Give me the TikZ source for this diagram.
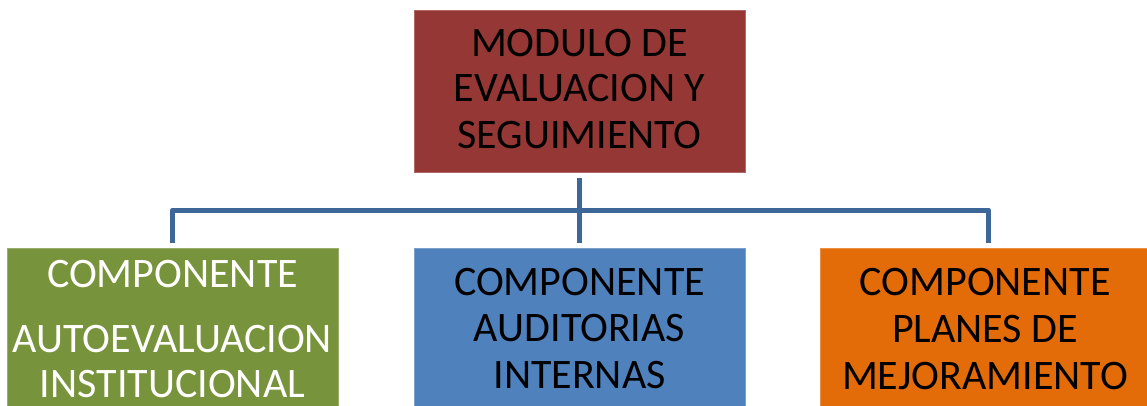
\documentclass[tikz,border=0pt]{standalone}
\usepackage{fontspec}
\setmainfont{Carlito}
\definecolor{boxred}{HTML}{953735}
\definecolor{boxgreen}{HTML}{77933C}
\definecolor{boxblue}{HTML}{4F81BD}
\definecolor{boxorange}{HTML}{E36C09}
\definecolor{linkblue}{HTML}{3D6699}
\tikzset{
  box/.style={rectangle, anchor=north west, inner sep=0pt, outer sep=0pt,
    minimum width=331pt, line width=0.8pt},
  txt/.style={anchor=base, inner sep=0pt, font=\fontsize{42}{46}\selectfont},
  link/.style={draw=linkblue, line width=5pt, line join=round, shorten <=6pt, shorten >=5pt}
}
\begin{document}
\begin{tikzpicture}[x=1pt,y=1pt]
\useasboundingbox (0,0) rectangle (1147,-406);
\begin{scope}
\clip (0,0) rectangle (1147,-406);
\node[box, fill=boxred, draw=boxred!75!white, minimum height=162pt] (top) at (414,-10) {};
\node[box, fill=boxgreen, draw=boxgreen!75!white, minimum height=180pt] (green) at (7,-248) {};
\node[box, fill=boxblue, draw=boxblue!75!white, minimum height=180pt] (blue) at (414,-248) {};
\node[box, fill=boxorange, draw=boxorange!75!white, minimum height=180pt] (orange) at (820,-248) {};

\draw[link] (top.south) -- (blue.north);
\draw[link] (top.south) -- ++(0,-38) -| (green.north);
\draw[link] (top.south) -- ++(0,-38) -| ([xshift=3pt]orange.north);

\node[txt] (t1) at (579.5,-57) {MODULO DE};
\node[txt] (t2) at (579.5,-102) {EVALUACION Y};
\node[txt] (t3) at (579.5,-149) {SEGUIMIENTO};

\node[txt, text=white] (g1) at (172.5,-287) {COMPONENTE};
\node[txt, text=white] (g2) at (172.5,-352) {AUTOEVALUACION};
\node[txt, text=white] (g3) at (172.5,-397) {INSTITUCIONAL};

\node[txt] (b1) at (579.5,-295) {COMPONENTE};
\node[txt] (b2) at (579.5,-341) {AUDITORIAS};
\node[txt] (b3) at (579.5,-388) {INTERNAS};

\node[txt] (o1) at (985,-295) {COMPONENTE};
\node[txt] (o2) at (985,-342) {PLANES DE};
\node[txt] (o3) at (985,-389) {MEJORAMIENTO};
\end{scope}
\end{tikzpicture}
\end{document}
